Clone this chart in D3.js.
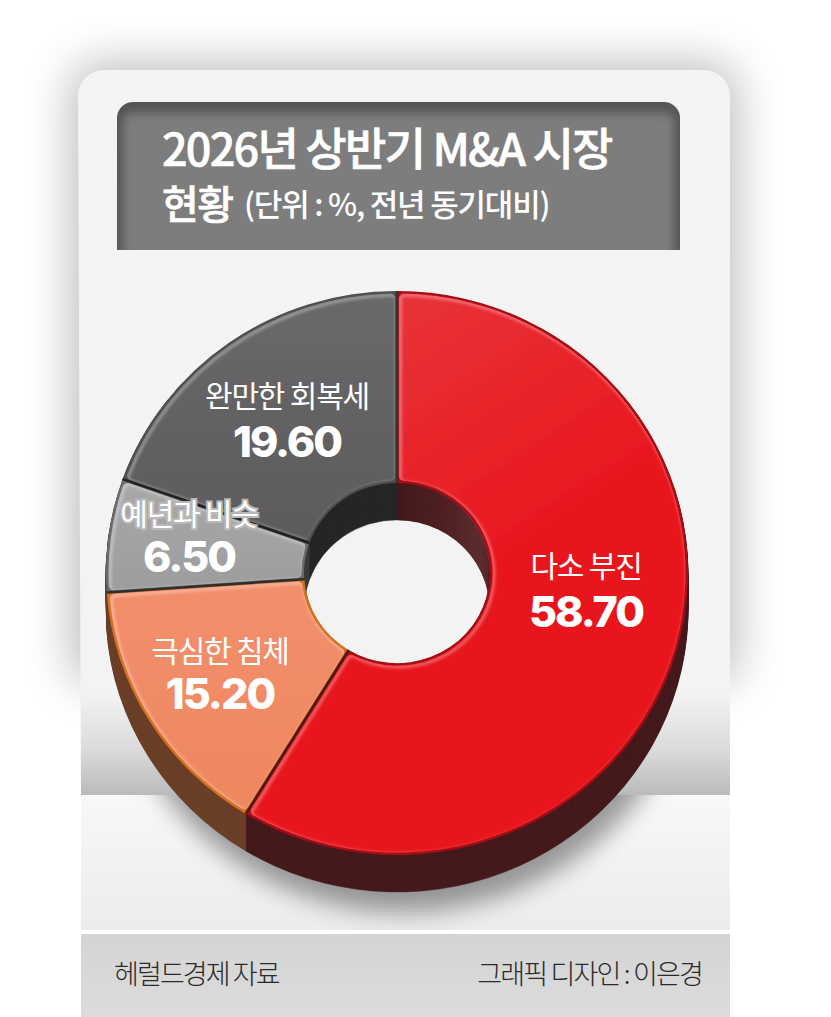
<!DOCTYPE html>
<html>
<head>
<meta charset="utf-8">
<script src="https://cdn.jsdelivr.net/npm/d3@7"></script>
<style>
  html, body { margin: 0; padding: 0; background: #fff; }
  svg { display: block; }
  text { font-family: "Noto Sans CJK KR", "Noto Sans", sans-serif; }
</style>
</head>
<body>
<div id="chart"></div>
<script>
// data
var categories = ["다소 부진", "극심한 침체", "예년과 비슷", "완만한 회복세"];
var values = [58.7, 15.2, 6.5, 19.6];
var valueLabels = ["58.70", "15.20", "6.50", "19.60"];
var edgeColors = ["#a80c14", "#d9701e", "#6a6a6a", "#505050"];
var sideColors = ["#451a1c", "#6b3f28", "#3a3c3c", "#262626"];
var sepColors = ["#333333", "#4a1c10", "#2e2e2e", "#222222"];

var width = 831, height = 1017;
var cx = 397, cy = 573, rx = 291, ry = 282, holeR = 93, depth = 37;

var svg = d3.select("#chart").append("svg").attr("width", width).attr("height", height);
var defs = svg.append("defs");

function blur(id, s) {
  defs.append("filter").attr("id", id)
    .attr("x", "-30%").attr("y", "-30%").attr("width", "160%").attr("height", "160%")
    .append("feGaussianBlur").attr("stdDeviation", s);
}
blur("b24", 24);
blur("b12", 12);
blur("b5", 5);
blur("b2", 1.5);
blur("b1", 0.7);

function gradient(id, stops, x2, y2) {
  var g = defs.append("linearGradient").attr("id", id)
    .attr("x1", 0).attr("y1", 0).attr("x2", x2).attr("y2", y2);
  stops.forEach(function(s) {
    g.append("stop").attr("offset", s[0]).attr("stop-color", s[1]);
  });
  return g;
}
gradient("upperBg", [[0, "#f4f4f4"], [0.86, "#f3f3f3"], [0.94, "#dadada"], [1, "#b9babb"]], 0, 1);
gradient("floorBg", [[0, "#f8f8f8"], [1, "#ececec"]], 0, 1);
gradient("footBg", [[0, "#d4d4d4"], [1, "#dcdcdc"]], 0, 1);
gradient("face0", [[0, "#ea3a40"], [0.3, "#e82a30"], [0.6, "#e8181f"], [1, "#e8141c"]], 0.5, 1);
gradient("face1", [[0, "#f28f6c"], [1, "#ef8760"]], 0, 1);
gradient("face2", [[0, "#a8a8a9"], [1, "#9d9d9e"]], 0, 1);
gradient("face3", [[0, "#6a696a"], [1, "#5c5b5c"]], 0, 1);
// the red wall inside the hole gets lighter to the right
gradient("holeWall", [[0, "#3f1819"], [0.6, "#5a2728"], [1, "#7a4a4b"]], 1, 0)
  .attr("gradientUnits", "userSpaceOnUse").attr("x1", 0).attr("x2", holeR).attr("y1", 0).attr("y2", 0);

// card and its shadow
svg.append("rect").attr("x", 72).attr("y", 64).attr("width", 664).attr("height", 620)
  .attr("rx", 26).attr("fill", "#000").attr("opacity", 0.27).attr("filter", "url(#b24)");
svg.append("path").attr("d", "M81,795L78,96a26,26 0 0 1 26,-26H704a26,26 0 0 1 26,26V795Z")
  .attr("fill", "url(#upperBg)");
svg.append("rect").attr("x", 81).attr("y", 795).attr("width", 649).attr("height", 135)
  .attr("fill", "url(#floorBg)");
svg.append("rect").attr("x", 81).attr("y", 930).attr("width", 649).attr("height", 4).attr("fill", "#fff");
svg.append("rect").attr("x", 81).attr("y", 934).attr("width", 649).attr("height", 83).attr("fill", "url(#footBg)");

// header box
var headerPath = "M117,250V118a16,16 0 0 1 16,-16H664a16,16 0 0 1 16,16V250Z";
defs.append("clipPath").attr("id", "headClip").append("path").attr("d", headerPath);
var head = svg.append("g").attr("clip-path", "url(#headClip)");
head.append("rect").attr("x", 117).attr("y", 102).attr("width", 563).attr("height", 148).attr("fill", "#565556");
head.append("rect").attr("x", 123).attr("y", 113).attr("width", 551).attr("height", 160)
  .attr("rx", 8).attr("fill", "#7d7d7d").attr("filter", "url(#b5)");
svg.append("text").attr("x", 162).attr("y", 166)
  .attr("font-size", 45).attr("font-weight", 500).attr("fill", "#fff").attr("letter-spacing", -1.8)
  .attr("stroke", "#fff").attr("stroke-width", 0.6)
  .text("2026년 상반기 M&A 시장");
svg.append("text").attr("x", 162).attr("y", 219).attr("fill", "#fff")
  .attr("font-size", 40).attr("font-weight", 500).attr("letter-spacing", -1.6)
  .attr("stroke", "#fff").attr("stroke-width", 0.6).text("현황");
svg.append("text").attr("x", 244).attr("y", 216).attr("fill", "#fff")
  .attr("font-size", 31).attr("font-weight", 500).attr("letter-spacing", -1.2).text("(단위 : %, 전년 동기대비)");

// pie
var pie = d3.pie().sort(null).value(function(d) { return d; });
var arcs = pie(values);
var squash = ry / rx;
var arc = d3.arc().innerRadius(holeR).outerRadius(rx);
var insetArc = d3.arc().innerRadius(holeR + 2.5).outerRadius(rx - 2.5).padAngle(0.012).cornerRadius(5);
var wallArc = d3.arc().innerRadius(holeR).outerRadius(holeR + 2);
var spoke = d3.lineRadial()
  .angle(function(d) { return d.a; })
  .radius(function(d) { return d.r; });

// floor shadow under the pie
defs.append("clipPath").attr("id", "floorClip")
  .append("rect").attr("x", 81).attr("y", 795).attr("width", 649).attr("height", 135);
svg.append("g").attr("clip-path", "url(#floorClip)")
  .append("ellipse").attr("cx", cx + 6).attr("cy", cy + depth + 20).attr("rx", rx + 2).attr("ry", ry)
  .attr("fill", "#000").attr("opacity", 0.38).attr("filter", "url(#b12)");

var pieG = svg.append("g").attr("transform", "translate(" + cx + "," + cy + ") scale(1," + squash + ")");

// side wall, stacked slices from the bottom up
d3.range(depth, 0, -1).forEach(function(off) {
  var layer = pieG.append("g").attr("transform", "translate(0," + (off / squash) + ")");
  layer.selectAll("path").data(arcs).enter().append("path")
    .attr("d", arc)
    .attr("fill", function(d, i) { return sideColors[i]; })
    .attr("stroke", function(d, i) { return sideColors[i]; })
    .attr("stroke-width", 0.5);
  layer.append("path").datum(arcs[0]).attr("d", wallArc).attr("fill", "url(#holeWall)");
});

// top face
pieG.selectAll("path.edge").data(arcs).enter().append("path").attr("class", "edge")
  .attr("d", arc)
  .attr("fill", function(d, i) { return edgeColors[i]; });

defs.selectAll("clipPath.faceClip").data(arcs).enter().append("clipPath")
  .attr("class", "faceClip")
  .attr("id", function(d, i) { return "faceClip" + i; })
  .append("path").attr("d", insetArc);

pieG.selectAll("path.face").data(arcs).enter().append("path").attr("class", "face")
  .attr("d", insetArc)
  .attr("fill", function(d, i) { return "url(#face" + i + ")"; })
  .attr("filter", "url(#b1)");

// soft highlight on the edges that face the top left
pieG.selectAll("g.shine").data(arcs).enter().append("g").attr("class", "shine")
  .attr("clip-path", function(d, i) { return "url(#faceClip" + i + ")"; })
  .append("path")
  .attr("d", insetArc)
  .attr("transform", "translate(1.5,1.5)")
  .attr("fill", "none").attr("stroke", "#fff").attr("stroke-opacity", 0.42).attr("stroke-width", 2.5)
  .attr("filter", "url(#b2)");

// dark lines between slices
pieG.selectAll("path.sep").data(arcs).enter().append("path").attr("class", "sep")
  .attr("d", function(d) { return spoke([{ a: d.startAngle, r: holeR }, { a: d.startAngle, r: rx }]); })
  .attr("fill", "none")
  .attr("stroke", function(d, i) { return sepColors[i]; })
  .attr("stroke-width", 2.6);

// labels
var labelPos = [[586, 577, 627], [220, 662, 709], [189, 525, 572], [287, 407, 457]];
var labels = svg.selectAll("g.lbl").data(categories).enter().append("g").attr("class", "lbl")
  .attr("text-anchor", "middle").attr("fill", "#fff");
labels.append("text")
  .attr("x", function(d, i) { return labelPos[i][0]; })
  .attr("y", function(d, i) { return labelPos[i][1]; })
  .attr("font-size", 30)
  .attr("letter-spacing", -1.2)
  .attr("stroke", function(d, i) { return i === 2 ? "#b8b8b8" : "none"; })
  .attr("stroke-width", function(d, i) { return i === 2 ? 4 : 0; })
  .attr("paint-order", "stroke")
  .text(function(d) { return d; });
labels.append("text")
  .attr("x", function(d, i) { return labelPos[i][0]; })
  .attr("y", function(d, i) { return labelPos[i][2]; })
  .attr("font-size", 43)
  .attr("font-weight", 800)
  .attr("letter-spacing", -2)
  .style("font-family", "Inter, Roboto, sans-serif")
  .text(function(d, i) { return valueLabels[i]; });

// footer
svg.append("text").attr("x", 114).attr("y", 984).attr("font-size", 27).attr("font-weight", 300)
  .attr("letter-spacing", -1.9).attr("fill", "#2a2a2a").text("헤럴드경제 자료");
svg.append("text").attr("x", 702).attr("y", 984).attr("text-anchor", "end").attr("font-size", 27).attr("font-weight", 300)
  .attr("letter-spacing", -1.8).attr("fill", "#2a2a2a").text("그래픽 디자인 : 이은경");
</script>
</body>
</html>
